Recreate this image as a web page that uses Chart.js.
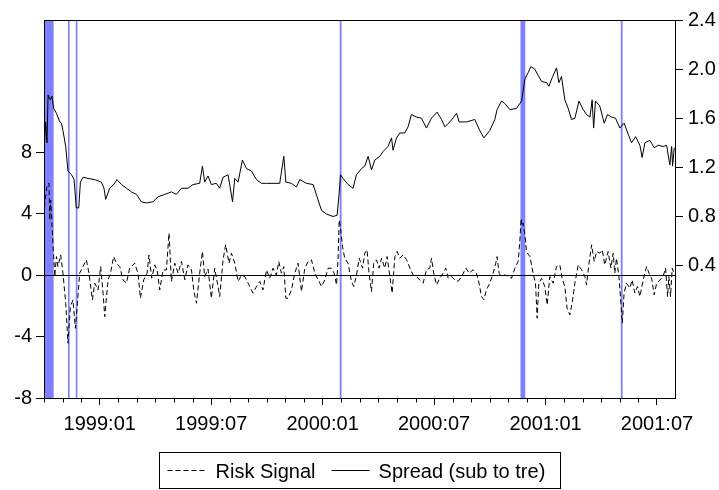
<!DOCTYPE html>
<html><head><meta charset="utf-8">
<script src="https://cdn.jsdelivr.net/npm/chart.js@4.4.1/dist/chart.umd.min.js"></script>
<style>html,body{margin:0;padding:0;background:#fff}</style>
</head><body>
<canvas id="c" width="719" height="490"></canvas>
<script>
const FONT = "'Liberation Sans', Arial, sans-serif";

// x positions are months elapsed since 1998:10 (0 = 1 Oct 1998)
const xTickMonths = [3, 9, 15, 21, 27, 33];
const xTickLabels = ['1999:01', '1999:07', '2000:01', '2000:07', '2001:01', '2001:07'];
const leftTicks = [-8, -4, 0, 4, 8];
const rightTicks = [0.4, 0.8, 1.2, 1.6, 2.0, 2.4];

// shaded periods [start, end] in months since 1998:10
const shadedBands = [[0.04, 0.52], [1.29, 1.38], [1.71, 1.80], [15.92, 16.02], [25.65, 25.91], [31.05, 31.15]];

const spreadMonths = [0,0.09,0.16,0.22,0.34,0.43,0.52,0.67,0.85,0.94,
1.02,1.17,1.29,1.48,1.62,1.74,1.87,1.96,2.10,2.37,
2.73,3.09,3.23,3.32,3.54,3.75,3.93,4.17,4.44,4.71,
4.98,5.24,5.51,5.87,6.14,6.50,6.86,7.13,7.40,7.75,
8.02,8.38,8.53,8.65,8.83,9.01,9.28,9.46,9.64,9.91,
10.15,10.27,10.45,10.68,10.90,11.17,11.44,11.71,11.98,12.33,
12.69,12.91,13.02,13.32,13.59,13.77,14.13,14.49,14.70,14.94,
15.21,15.56,15.78,15.89,15.96,16.10,16.37,16.64,16.82,17.09,
17.27,17.45,17.63,17.81,18.08,18.26,18.52,18.71,18.79,18.98,
19.15,19.42,19.60,19.78,20.05,20.32,20.59,20.86,21.16,21.40,
21.58,21.85,22.21,22.35,22.75,23.19,23.46,23.68,24.00,24.27,
24.39,24.63,24.81,25.08,25.44,25.71,25.89,26.06,26.21,26.42,
26.60,26.79,27.06,27.18,27.36,27.59,27.72,27.86,28.04,28.22,
28.40,28.58,28.80,29.03,29.21,29.39,29.51,29.59,29.69,29.92,
30.16,30.34,30.55,30.77,31.00,31.23,31.45,31.63,31.85,32.08,
32.20,32.35,32.62,32.85,33.07,33.33,33.52,33.69,33.79,33.84,
33.93];
const spreadValues = [1.32,1.57,1.40,1.79,1.75,1.78,1.68,1.64,1.57,1.56,
1.50,1.37,1.17,1.14,1.10,0.87,0.87,1.08,1.12,1.11,
1.10,1.08,1.03,0.94,1.03,1.06,1.10,1.06,1.03,1.00,
0.98,0.92,0.91,0.92,0.96,0.98,1.00,0.98,1.03,1.03,
1.06,1.07,1.21,1.08,1.13,1.06,1.07,1.03,1.12,1.14,
0.92,1.11,1.08,1.26,1.19,1.17,1.10,1.07,1.07,1.07,
1.07,1.29,1.08,1.07,1.04,1.10,1.07,1.06,0.96,0.85,
0.82,0.80,0.81,0.99,1.14,1.11,1.06,1.03,1.14,1.19,
1.21,1.29,1.18,1.26,1.29,1.33,1.37,1.44,1.34,1.44,
1.48,1.48,1.53,1.63,1.61,1.60,1.52,1.60,1.65,1.59,
1.53,1.57,1.64,1.57,1.57,1.59,1.50,1.44,1.50,1.59,
1.67,1.74,1.72,1.67,1.68,1.74,1.92,1.97,2.02,2.00,
1.95,1.90,1.89,1.86,1.93,2.01,1.89,1.94,1.75,1.68,
1.59,1.60,1.74,1.67,1.63,1.61,1.75,1.52,1.74,1.70,
1.56,1.63,1.61,1.60,1.52,1.56,1.47,1.40,1.45,1.38,
1.28,1.40,1.42,1.36,1.38,1.37,1.38,1.22,1.37,1.21,
1.36];

const riskMonths = [0,0.04,0.16,0.27,0.31,0.36,0.45,0.52,0.58,0.67,
0.75,0.90,1.02,1.17,1.29,1.42,1.56,1.69,1.80,1.92,
2.10,2.28,2.42,2.61,2.73,2.91,3.05,3.18,3.27,3.45,
3.58,3.75,3.90,4.08,4.25,4.44,4.61,4.88,5.06,5.19,
5.37,5.55,5.65,5.80,5.96,6.09,6.23,6.41,6.59,6.73,
6.86,7.04,7.22,7.40,7.58,7.75,7.94,8.06,8.21,8.38,
8.53,8.65,8.83,9.01,9.19,9.37,9.46,9.64,9.78,9.96,
10.09,10.27,10.45,10.63,10.81,10.99,11.25,11.44,11.62,11.79,
11.98,12.15,12.33,12.51,12.64,12.78,12.91,13.02,13.14,13.32,
13.50,13.68,13.86,14.04,14.22,14.40,14.58,14.76,14.94,15.12,
15.29,15.48,15.62,15.75,15.83,15.89,15.96,16.07,16.19,16.37,
16.55,16.68,16.82,16.97,17.15,17.27,17.39,17.50,17.63,17.75,
17.90,18.04,18.17,18.35,18.47,18.62,18.74,18.89,19.01,19.15,
19.33,19.52,19.70,19.87,20.05,20.23,20.41,20.59,20.77,20.86,
20.98,21.13,21.31,21.49,21.63,21.76,21.94,22.12,22.29,22.48,
22.71,22.89,23.10,23.28,23.42,23.55,23.68,23.82,24.00,24.18,
24.32,24.39,24.50,24.63,24.81,24.99,25.17,25.35,25.53,25.62,
25.69,25.74,25.79,25.89,25.98,26.16,26.33,26.46,26.55,26.64,
26.79,26.96,27.09,27.23,27.41,27.59,27.77,27.89,28.04,28.16,
28.31,28.43,28.58,28.76,28.94,29.12,29.21,29.33,29.48,29.62,
29.75,29.92,30.05,30.19,30.37,30.52,30.64,30.73,30.82,30.95,
31.06,31.13,31.23,31.36,31.54,31.66,31.81,31.95,32.08,32.26,
32.44,32.57,32.71,32.85,32.98,33.16,33.33,33.46,33.57,33.64,
33.73,33.82,33.91];
const riskValues = [3.39,4.69,5.78,6.0,3.6,4.9,2.8,1.21,-0.09,1.21,
0.56,1.32,0.13,-1.83,-4.43,-2.05,-1.61,-3.46,-1.83,0.13,
0.56,1.0,0.13,-1.61,-0.52,-0.96,0.56,-1.17,-2.7,-0.3,
0.13,1.21,0.78,0.56,-0.3,-0.52,0.45,0.78,0.13,-1.5,
-0.3,0.13,1.32,-0.2,0.67,0.34,-0.96,0.34,0.34,2.74,
-0.41,0.78,0.13,0.89,-0.3,0.67,0.34,-0.96,-1.83,0.13,
1.54,-0.1,0.4,-1.5,0.45,-0.74,-1.39,1.0,1.98,0.78,
1.43,0.78,-0.41,0,-0.1,-0.52,-1.17,-0.74,-0.41,-0.96,
0.34,-0.2,0.45,0,0.89,0.13,0.56,-1.5,-1.5,-0.96,
0.13,0.78,-1.07,0.45,0.89,1.0,0.13,-0.3,-0.74,-0.3,
0.45,0.45,0.13,-0.63,1.0,3.6,3.17,1.87,1.1,0.78,
-0.41,-0.74,0,1.1,0.46,1.43,1.65,0.13,-1.07,0.78,
1.0,0.46,1.1,0.46,1.21,-0.09,-1.17,1.21,1.54,1.1,
1.32,1.0,0.46,0.02,-0.09,-0.31,-0.52,0.35,0.46,1.1,
0.13,-0.63,-0.2,0.13,0.46,-0.2,-0.09,-0.31,-0.41,-0.09,
0.46,0.13,0.35,0.13,-0.52,-1.39,-1.6,-0.96,-0.52,0.13,
0.78,1.21,0.13,-0.09,0.02,-0.09,-0.2,0.46,0.9,2.3,
3.7,3.2,3.39,2.6,1.5,1.21,0.13,-0.52,-2.8,-0.52,
-0.2,-0.74,-1.94,-0.09,-0.52,0.56,0.67,-0.2,-0.74,-2.15,
-2.59,-1.83,-0.52,0.67,0.35,-0.09,-0.63,0.67,1.98,0.89,
1.54,1.43,1.65,0.67,1.54,0.46,1.43,0.13,1.1,-0.09,
-1.83,-3.13,-1.17,-0.52,-0.85,-0.31,-1.17,-0.74,-1.39,-0.31,
0.56,0.13,-0.2,-1.28,-0.52,-0.31,-0.09,0.46,-1.39,-0.09,
-1.39,0.46,0.13];

const seriesNames = ['Risk Signal', 'Spread (sub to tre)'];

const toPoints = (xs, ys) => xs.map((v, i) => ({ x: v, y: ys[i] }));

const shadePlugin = {
  id: 'shade',
  beforeDraw(chart) {
    const { ctx, chartArea: a, scales: { x } } = chart;
    ctx.save();
    ctx.fillStyle = '#8080FF';
    shadedBands.forEach(([s, e]) => {
      const x0 = x.getPixelForValue(s), x1 = x.getPixelForValue(e);
      ctx.fillRect(x0, a.top, Math.max(1, x1 - x0), a.bottom - a.top);
    });
    ctx.restore();
  }
};

const framePlugin = {
  id: 'frame',
  afterDraw(chart) {
    const { ctx, chartArea: a, scales: { x } } = chart;
    ctx.save();
    ctx.strokeStyle = '#000';
    ctx.lineWidth = 1;
    ctx.setLineDash([]);
    const L = Math.round(a.left) + 0.5, R = Math.round(a.right) + 0.5;
    const T = Math.round(a.top) + 0.5, B = Math.round(a.bottom) + 0.5;
    ctx.strokeRect(L, T, R - L, B - T);
    // minor monthly ticks
    ctx.beginPath();
    for (let m = 0; m <= Math.floor(x.max); m++) {
      if (xTickMonths.includes(m)) continue;
      const px = Math.round(x.getPixelForValue(m)) + 0.5;
      ctx.moveTo(px, B);
      ctx.lineTo(px, B + 4);
    }
    ctx.stroke();

    // legend box
    const cx = chart.width / 2;
    const boxL = Math.round(cx - 200.5) + 0.5, boxT = 452.5, boxW = 401, boxH = 36;
    ctx.strokeRect(boxL, boxT, boxW, boxH);
    const ly = 470.5;
    ctx.font = '20px ' + FONT;
    ctx.fillStyle = '#000';
    ctx.textBaseline = 'alphabetic';
    ctx.textAlign = 'left';
    // dashed sample
    ctx.beginPath();
    ctx.setLineDash([5, 3]);
    ctx.moveTo(boxL + 8, ly);
    ctx.lineTo(boxL + 48, ly);
    ctx.stroke();
    ctx.fillText(seriesNames[0], boxL + 56, 478);
    const w1 = ctx.measureText(seriesNames[0]).width;
    const s2 = boxL + 56 + w1 + 16;
    ctx.beginPath();
    ctx.setLineDash([]);
    ctx.moveTo(s2, ly);
    ctx.lineTo(s2 + 38, ly);
    ctx.stroke();
    ctx.fillText(seriesNames[1], s2 + 47, 478);
    ctx.restore();
  }
};

const tickFont = { family: FONT, size: 20 };

new Chart(document.getElementById('c'), {
  type: 'line',
  data: {
    datasets: [
      {
        label: seriesNames[0],
        data: toPoints(riskMonths, riskValues),
        yAxisID: 'y',
        borderColor: '#000',
        borderWidth: 1,
        borderDash: [5, 3],
        pointRadius: 0,
        tension: 0,
        fill: false
      },
      {
        label: seriesNames[1],
        data: toPoints(spreadMonths, spreadValues),
        yAxisID: 'y1',
        borderColor: '#000',
        borderWidth: 1,
        pointRadius: 0,
        tension: 0,
        fill: false
      }
    ]
  },
  options: {
    responsive: false,
    animation: false,
    events: [],
    layout: { padding: { top: 20, left: 0, right: 0, bottom: 0 } },
    plugins: { legend: { display: false }, tooltip: { enabled: false } },
    scales: {
      x: {
        type: 'linear',
        min: 0,
        max: 33.97,
        afterBuildTicks: s => { s.ticks = xTickMonths.map(v => ({ value: v })); },
        afterFit: s => { s.height = 92; },
        ticks: {
          autoSkip: false, maxRotation: 0, minRotation: 0, padding: 7,
          color: '#000', font: tickFont,
          callback: (v, i) => xTickLabels[i]
        },
        grid: { drawOnChartArea: false, drawTicks: true, tickLength: 7, tickColor: '#000', tickWidth: 1 },
        border: { display: false }
      },
      y: {
        type: 'linear',
        position: 'left',
        min: -8,
        max: 16.62,
        afterBuildTicks: s => { s.ticks = leftTicks.map(v => ({ value: v })); },
        afterFit: s => { s.width = 44; },
        ticks: { padding: 4, color: '#000', font: tickFont, callback: (v, i) => String(leftTicks[i]) },
        grid: {
          drawOnChartArea: true,
          color: c => (c.tick && c.tick.value === 0) ? '#000' : 'rgba(0,0,0,0)',
          lineWidth: 1,
          tickColor: '#000', tickLength: 8, tickWidth: 1
        },
        border: { display: false }
      },
      y1: {
        type: 'linear',
        position: 'right',
        min: -0.678,
        max: 2.4,
        afterBuildTicks: s => { s.ticks = rightTicks.map(v => ({ value: v })); },
        afterFit: s => { s.width = 44; },
        ticks: { padding: 5, color: '#000', font: tickFont, callback: (v, i) => rightTicks[i].toFixed(1) },
        grid: { drawOnChartArea: false, tickColor: '#000', tickLength: 8, tickWidth: 1 },
        border: { display: false }
      }
    }
  },
  plugins: [shadePlugin, framePlugin]
});
</script>
</body></html>
